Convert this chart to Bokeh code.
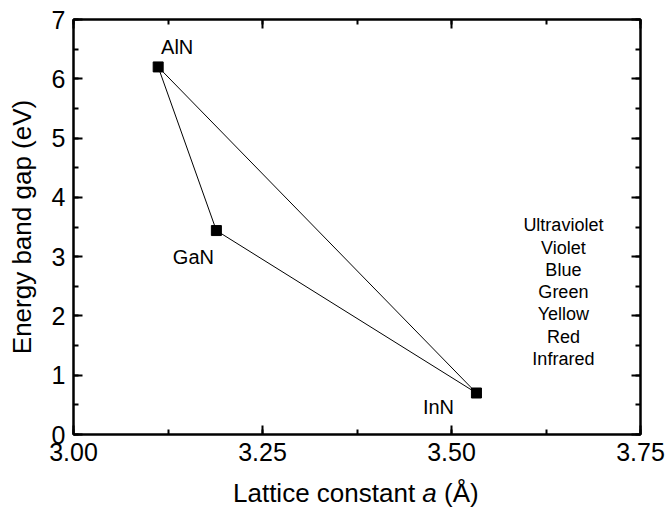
from bokeh.plotting import figure
from bokeh.models import (Range1d, LinearAxis, SingleIntervalTicker, NumeralTickFormatter,
                          CustomLabelingPolicy, ColumnDataSource, Div)
from bokeh.layouts import column
from bokeh.core.properties import value
from bokeh.embed import file_html
from bokeh.resources import INLINE

# ---- data ----
materials = ["AlN", "GaN", "InN"]
lattice_a = [3.112, 3.189, 3.533]
band_gap = [6.20, 3.44, 0.70]
spectrum_labels = ["Ultraviolet", "Violet", "Blue", "Green", "Yellow", "Red", "Infrared"]
x_tick_step = 0.25
y_tick_step = 1

FONT = "Liberation Sans"

p = figure(width=666, height=475, output_backend="svg", toolbar_location=None,
           x_range=Range1d(3.0, 3.75), y_range=Range1d(0, 7),
           min_border_left=73, min_border_right=26, min_border_top=19, min_border_bottom=41)
p.background_fill_color = "white"
p.border_fill_color = "white"
p.grid.visible = False
p.outline_line_color = "black"
p.outline_line_width = 2

xt = SingleIntervalTicker(interval=x_tick_step, num_minor_ticks=2)
yt = SingleIntervalTicker(interval=y_tick_step, num_minor_ticks=2)
p.xaxis.ticker = xt
p.yaxis.ticker = yt
p.xaxis.formatter = NumeralTickFormatter(format="0.00")


def style_axis(ax):
    ax.axis_line_width = 2
    ax.major_tick_in = 9
    ax.major_tick_out = 0
    ax.minor_tick_in = 5
    ax.minor_tick_out = 0
    ax.major_tick_line_width = 2
    ax.minor_tick_line_width = 2


for ax in (p.xaxis[0], p.yaxis[0]):
    style_axis(ax)
    ax.major_label_text_font = FONT
    ax.major_label_text_font_size = "25px"
    ax.major_label_text_color = "black"
    ax.major_label_standoff = 8

p.xaxis.axis_label = None
p.yaxis.axis_label = "Energy band gap (eV)"
p.yaxis.axis_label_text_font = FONT
p.yaxis.axis_label_text_font_size = "26px"
p.yaxis.axis_label_text_font_style = "normal"
p.yaxis.axis_label_text_color = "black"
p.yaxis.axis_label_standoff = 12

# mirrored axes (ticks only, labels suppressed)
for loc, tk in (("right", yt), ("above", xt)):
    ax = LinearAxis(ticker=tk, major_label_policy=CustomLabelingPolicy(code="return new Set()"))
    style_axis(ax)
    ax.major_label_standoff = 0
    p.add_layout(ax, loc)

src = ColumnDataSource(dict(x=lattice_a, y=band_gap, name=materials))

# triangle connecting the three nitrides
tri_x = [lattice_a[0], lattice_a[1], lattice_a[2], lattice_a[0]]
tri_y = [band_gap[0], band_gap[1], band_gap[2], band_gap[0]]
p.line(tri_x, tri_y, line_color="black", line_width=1)
p.scatter("x", "y", source=src, marker="square", size=10, fill_color="black", line_color="black")

# material labels (offsets in screen px)
offsets = {"AlN": (19, -20), "GaN": (-23, 26), "InN": (-38, 14)}
for m, xv, yv in zip(materials, lattice_a, band_gap):
    dx, dy = offsets[m]
    p.text(x=[xv], y=[yv], text=[m], x_offset=dx, y_offset=dy,
           text_align="center", text_baseline="middle",
           text_font=value(FONT), text_font_size="20px", text_color="black")

# spectrum list
for i, s in enumerate(spectrum_labels):
    p.text(x=[3.648], y=[3.53], text=[s], x_offset=0, y_offset=i * 22.3,
           text_align="center", text_baseline="middle",
           text_font=value(FONT), text_font_size="18px", text_color="black")

# x axis title with italic "a"
xlabel = Div(text="Lattice constant <i>a</i> (Å)", width=666, height=40, margin=0,
             styles={"font-family": FONT, "font-size": "26px", "color": "black",
                     "white-space": "nowrap", "padding-left": "233px", "padding-top": "3px",
                     "line-height": "30px", "box-sizing": "border-box"})

layout = column(p, xlabel, spacing=0)
open("out.html", "w").write(file_html(layout, INLINE))
